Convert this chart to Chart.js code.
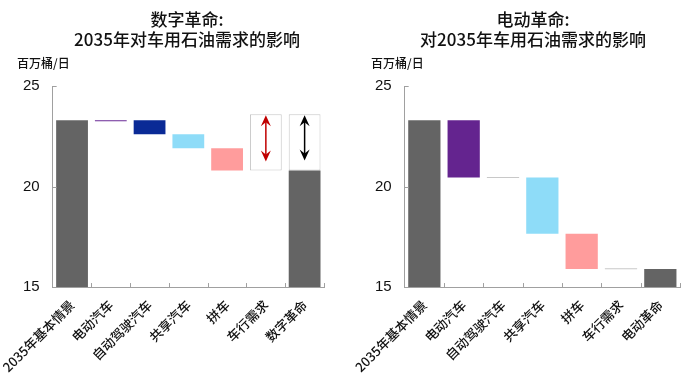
<!DOCTYPE html>
<html>
<head>
<meta charset="utf-8">
<script src="https://cdn.jsdelivr.net/npm/chart.js@4/dist/chart.umd.min.js"></script>
<style>
  body { margin: 0; background: #fff; }
  .wrap { display: flex; width: 692px; height: 377px; }
  .box { position: relative; width: 346px; height: 377px; }
</style>
</head>
<body>
<div class="wrap">
  <div class="box"><canvas id="digital"></canvas></div>
  <div class="box"><canvas id="electric"></canvas></div>
</div>
<script>
// categories
const digitalLabels = ["2035年基本情景", "电动汽车", "自动驾驶汽车", "共享汽车", "拼车", "车行需求", "数字革命"];
const electricLabels = ["2035年基本情景", "电动汽车", "自动驾驶汽车", "共享汽车", "拼车", "车行需求", "电动革命"];

// floating bar ranges, million barrels per day
const digitalBars = [[15, 23.3], [23.25, 23.3], [22.6, 23.3], [21.9, 22.6], [20.8, 21.9], null, [15, 20.8]];
const digitalRange = [null, null, null, null, null, [20.8, 23.6], [20.8, 23.6]];
const digitalArrows = [null, null, null, null, null, [21.25, 23.55], [21.3, 23.55]];

const electricBars = [[15, 23.3], [20.45, 23.3], [20.42, 20.47], [17.65, 20.45], [15.9, 17.65], [15.88, 15.93], [15, 15.9]];

const yTicks = [15, 20, 25];

const digitalColors = ["#646464", "#6a2a96", "#0a2a96", "#8edcf8", "#ff9c9c", "#ffffff", "#646464"];
const digitalArrowColors = [null, null, null, null, null, "#c00000", "#000000"];
const electricColors = ["#646464", "#64248f", "#c8c8c8", "#8edcf8", "#ff9c9c", "#c8c8c8", "#646464"];

const cjk = "'Noto Sans CJK SC', 'Noto Sans', sans-serif";
const latin = "'Liberation Sans', Arial, sans-serif";

// titles, unit label and inward axis ticks
const axisTicks = {
  id: "axisTicks",
  afterDraw(chart) {
    const { ctx, chartArea, scales } = chart;
    ctx.save();
    ctx.strokeStyle = "#a0a0a0";
    ctx.lineWidth = 1;
    ctx.beginPath();
    yTicks.forEach(v => {
      const y = Math.round(scales.y.getPixelForValue(v)) + 0.5;
      ctx.moveTo(chartArea.left, y);
      ctx.lineTo(chartArea.left + 4, y);
    });
    const n = chart.data.labels.length;
    const step = (chartArea.right - chartArea.left) / n;
    for (let i = 1; i <= n; i++) {
      const x = Math.round(chartArea.left + step * i) + 0.5;
      ctx.moveTo(x, chartArea.bottom);
      ctx.lineTo(x, chartArea.bottom - 4);
    }
    ctx.stroke();

    ctx.fillStyle = "#111";
    ctx.textBaseline = "middle";
    ctx.textAlign = "center";
    ctx.font = "500 17px " + cjk;
    chart.options.titleLines.forEach((t, i) => ctx.fillText(t, 187, 20 + i * 20));

    ctx.textAlign = "left";
    ctx.font = "500 12px " + cjk;
    ctx.fillText("百万桶/日", chart.options.unitX, 63);
    ctx.restore();
  }
};

// double arrows inside range boxes
const arrowPlugin = {
  id: "arrows",
  afterDatasetsDraw(chart, args, opts) {
    if (!opts.data) return;
    const { ctx, scales } = chart;
    opts.data.forEach((r, i) => {
      if (!r) return;
      const x = scales.x.getPixelForValue(i);
      const y1 = scales.y.getPixelForValue(r[0]);
      const y2 = scales.y.getPixelForValue(r[1]);
      ctx.save();
      ctx.strokeStyle = opts.colors[i];
      ctx.fillStyle = opts.colors[i];
      ctx.lineWidth = 1.5;
      ctx.beginPath();
      ctx.moveTo(x, y1 - 4);
      ctx.lineTo(x, y2 + 4);
      ctx.stroke();
      [[y2, 1], [y1, -1]].forEach(([y, d]) => {
        ctx.beginPath();
        ctx.moveTo(x, y);
        ctx.lineTo(x - 5, y + d * 11);
        ctx.lineTo(x, y + d * 7);
        ctx.lineTo(x + 5, y + d * 11);
        ctx.closePath();
        ctx.fill();
      });
      ctx.restore();
    });
  }
};

function makeChart(id, labels, title, datasets, arrows, pad, unitX) {
  return new Chart(document.getElementById(id), {
    type: "bar",
    data: { labels: labels, datasets: datasets },
    options: {
      responsive: true,
      maintainAspectRatio: false,
      animation: false,
      unitX: unitX,
      titleLines: title,
      layout: { padding: pad },
      datasets: {
        bar: { categoryPercentage: 1, barPercentage: 0.82, grouped: false }
      },
      plugins: {
        legend: { display: false },
        tooltip: { enabled: false },
        title: { display: false },
        arrows: arrows
      },
      scales: {
        x: {
          grid: { display: false },
          border: { color: "#a0a0a0" },
          ticks: {
            color: "#111",
            font: { family: cjk, size: 13, weight: "500" },
            minRotation: 45,
            maxRotation: 45,
            padding: 2
          }
        },
        y: {
          min: 15,
          max: 25,
          grid: { display: false },
          border: { color: "#a0a0a0" },
          afterBuildTicks: axis => {
            axis.ticks = yTicks.map(v => ({ value: v }));
          },
          ticks: {
            color: "#111",
            font: { family: latin, size: 15 },
            padding: 5
          }
        }
      }
    },
    plugins: [axisTicks, arrowPlugin]
  });
}

makeChart("digital", digitalLabels, ["数字革命:", "2035年对车用石油需求的影响"], [
  {
    data: digitalBars,
    backgroundColor: digitalColors,
    borderWidth: 0
  },
  {
    data: digitalRange,
    backgroundColor: "#ffffff",
    borderColor: "#c8c8c8",
    borderWidth: 1,
    borderSkipped: false
  }
], { data: digitalArrows, colors: digitalArrowColors }, { top: 86, left: 9, right: 22, bottom: 0 }, 17);

makeChart("electric", electricLabels, ["电动革命:", "对2035年车用石油需求的影响"], [
  {
    data: electricBars,
    backgroundColor: electricColors,
    borderWidth: 0
  }
], { data: null }, { top: 86, left: 24, right: 12, bottom: 0 }, 25);
</script>
</body>
</html>
